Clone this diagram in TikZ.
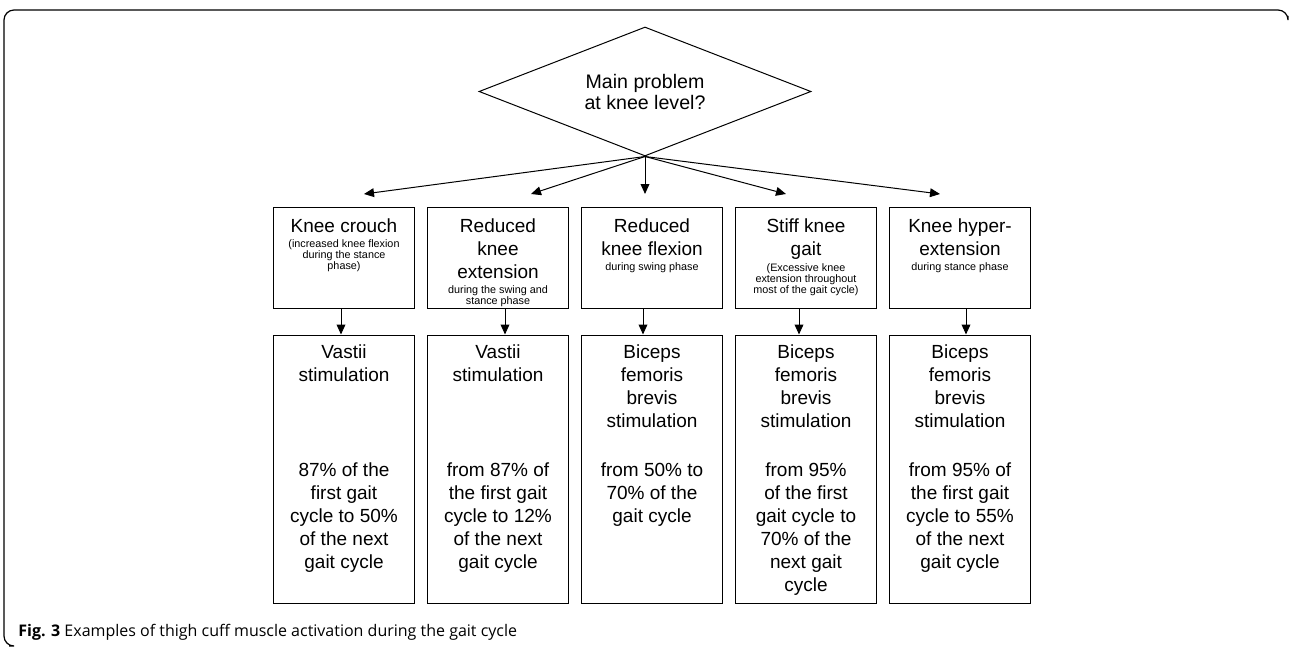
\documentclass[tikz,border=0pt]{standalone}
\usepackage{fontspec}
\setmainfont{Liberation Sans}
\newfontfamily\capfont{Open Sans}
\usetikzlibrary{shapes.geometric, arrows.meta, positioning}

\begin{document}
\begin{tikzpicture}[
    x=0.5pt, y=-0.5pt,
    decision/.style={
        diamond,
        aspect=2.57,
        draw,
        line width=0.5pt,
        minimum width=166pt,
        minimum height=64.5pt,
        inner sep=0pt,
        align=center,
        font=\fontsize{9.8}{10.5}\selectfont
    },
    probbox/.style={
        rectangle,
        draw,
        line width=0.5pt,
        minimum width=70.5pt,
        minimum height=50.5pt,
        inner sep=0pt
    },
    stimbox/.style={
        rectangle,
        draw,
        line width=0.5pt,
        minimum width=70.5pt,
        minimum height=134pt,
        inner sep=0pt
    },
    boxtext/.style={
        anchor=north,
        align=center,
        inner sep=0pt,
        font=\fontsize{9.5}{11.5}\selectfont
    },
    note/.style={
        below=3pt,
        anchor=north,
        align=center,
        inner sep=0pt,
        font=\fontsize{5.4}{5.4}\selectfont
    },
    arrow/.style={
        -{Triangle[length=5pt, width=4.4pt]},
        line width=0.5pt
    }
]
\useasboundingbox (0,0) rectangle (1290,647);

% Frame
\draw[line width=0.6pt, rounded corners=5pt] (9,646) -- (4,646) -- (4,10) -- (1288,10) -- (1288,16);

% Decision
\node[decision] (question) at (645,91.5) {Main problem\\at knee level?};

% Problems at knee level
\node[probbox] (crouch) at (344,257.5) {};
\node[probbox] (redext) at (498,257.5) {};
\node[probbox] (redflex) at (652,257.5) {};
\node[probbox] (stiff) at (806,257.5) {};
\node[probbox] (hyper) at (960,257.5) {};

\node[boxtext] (crouchT) at ([yshift=-6pt]crouch.north) {Knee crouch};
\node[note] at (crouchT.south) {(increased knee flexion\\during the stance\\phase)};
\node[boxtext] (redextT) at ([yshift=-6pt]redext.north) {Reduced\\knee\\extension};
\node[note] at (redextT.south) {during the swing and\\stance phase};
\node[boxtext] (redflexT) at ([yshift=-6pt]redflex.north) {Reduced\\knee flexion};
\node[note] at (redflexT.south) {during swing phase};
\node[boxtext] (stiffT) at ([yshift=-6pt]stiff.north) {Stiff knee\\gait};
\node[note, below=1.6pt] at (stiffT.south) {(Excessive knee\\extension throughout\\most of the gait cycle)};
\node[boxtext] (hyperT) at ([yshift=-6pt]hyper.north) {Knee hyper-\\extension};
\node[note] at (hyperT.south) {during stance phase};

% Stimulation
\node[stimbox] (vast1) at (344,469) {};
\node[stimbox] (vast2) at (498,469) {};
\node[stimbox] (bic1) at (652,469) {};
\node[stimbox] (bic2) at (806,469) {};
\node[stimbox] (bic3) at (960,469) {};

\node[boxtext] at ([yshift=-5pt]vast1.north) {Vastii\\stimulation};
\node[boxtext] at ([yshift=-64pt]vast1.north) {87\% of the\\first gait\\cycle to 50\%\\of the next\\gait cycle};
\node[boxtext] at ([yshift=-5pt]vast2.north) {Vastii\\stimulation};
\node[boxtext] at ([yshift=-64pt]vast2.north) {from 87\% of\\the first gait\\cycle to 12\%\\of the next\\gait cycle};
\node[boxtext] at ([yshift=-5pt]bic1.north) {Biceps\\femoris\\brevis\\stimulation};
\node[boxtext] at ([yshift=-64pt]bic1.north) {from 50\% to\\70\% of the\\gait cycle};
\node[boxtext] at ([yshift=-5pt]bic2.north) {Biceps\\femoris\\brevis\\stimulation};
\node[boxtext] at ([yshift=-64pt]bic2.north) {from 95\%\\of the first\\gait cycle to\\70\% of the\\next gait\\cycle};
\node[boxtext] at ([yshift=-5pt]bic3.north) {Biceps\\femoris\\brevis\\stimulation};
\node[boxtext] at ([yshift=-64pt]bic3.north) {from 95\% of\\the first gait\\cycle to 55\%\\of the next\\gait cycle};

% Arrows
\foreach \n/\tx in {1/364, 2/531, 3/645, 4/786, 5/940} {
    \coordinate (tip\n) at (\tx,194);
    \draw[arrow] (question.south) -- (tip\n);
}
\draw[arrow] ([xshift=-1.5pt]crouch.south) -- ([xshift=-1.5pt]vast1.north);
\draw[arrow] ([xshift=3.5pt]redext.south) -- ([xshift=3.5pt]vast2.north);
\draw[arrow] ([xshift=-4.5pt]redflex.south) -- ([xshift=-4.5pt]bic1.north);
\draw[arrow] ([xshift=-3.5pt]stiff.south) -- ([xshift=-3.5pt]bic2.north);
\draw[arrow] ([xshift=3pt]hyper.south) -- ([xshift=3pt]bic3.north);

% Caption
\node[anchor=base west, inner sep=0pt, font=\capfont\fontsize{8}{10}\selectfont] (caption) at (18,636)
    {\textbf{Fig. 3} Examples of thigh cuff muscle activation during the gait cycle};

\end{tikzpicture}
\end{document}
